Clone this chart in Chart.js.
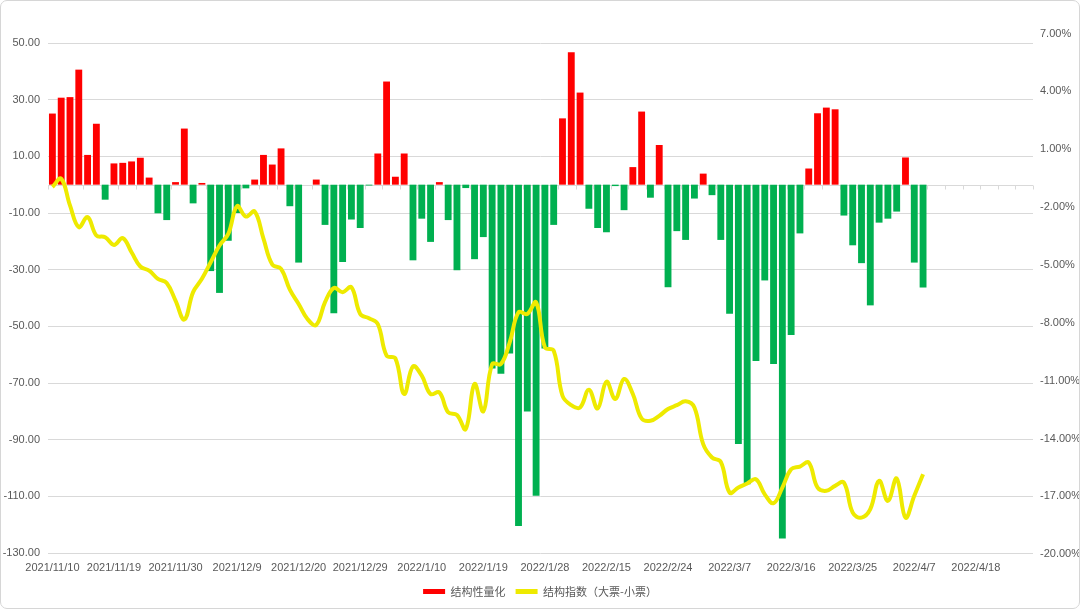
<!DOCTYPE html>
<html>
<head>
<meta charset="utf-8">
<script src="https://cdn.jsdelivr.net/npm/chart.js@4.4.1/dist/chart.umd.min.js"></script>
<style>
  html, body { margin: 0; padding: 0; background: #ffffff; }
  #wrap { position: relative; width: 1080px; height: 609px; }
  #c { position: absolute; left: 0; top: 0; }
  #frame { position: absolute; left: 0; top: 0; width: 1078px; height: 607px;
           border: 1px solid #d6d6d6; border-radius: 7px; pointer-events: none; }
</style>
</head>
<body>
<div id="wrap">
  <canvas id="c" width="1080" height="609"></canvas>
  <div id="frame"></div>
</div>
<script>
// ---- categories: trading days ----
const categories = [
  "2021/11/10","2021/11/11","2021/11/12","2021/11/15","2021/11/16","2021/11/17","2021/11/18","2021/11/19",
  "2021/11/22","2021/11/23","2021/11/24","2021/11/25","2021/11/26","2021/11/29","2021/11/30",
  "2021/12/1","2021/12/2","2021/12/3","2021/12/6","2021/12/7","2021/12/8","2021/12/9",
  "2021/12/10","2021/12/13","2021/12/14","2021/12/15","2021/12/16","2021/12/17","2021/12/20",
  "2021/12/21","2021/12/22","2021/12/23","2021/12/24","2021/12/27","2021/12/28","2021/12/29",
  "2021/12/30","2021/12/31","2022/1/4","2022/1/5","2022/1/6","2022/1/7","2022/1/10",
  "2022/1/11","2022/1/12","2022/1/13","2022/1/14","2022/1/17","2022/1/18","2022/1/19",
  "2022/1/20","2022/1/21","2022/1/24","2022/1/25","2022/1/26","2022/1/27","2022/1/28",
  "2022/2/7","2022/2/8","2022/2/9","2022/2/10","2022/2/11","2022/2/14","2022/2/15",
  "2022/2/16","2022/2/17","2022/2/18","2022/2/21","2022/2/22","2022/2/23","2022/2/24",
  "2022/2/25","2022/2/28","2022/3/1","2022/3/2","2022/3/3","2022/3/4","2022/3/7",
  "2022/3/8","2022/3/9","2022/3/10","2022/3/11","2022/3/14","2022/3/15","2022/3/16",
  "2022/3/17","2022/3/18","2022/3/21","2022/3/22","2022/3/23","2022/3/24","2022/3/25",
  "2022/3/28","2022/3/29","2022/3/30","2022/3/31","2022/4/1","2022/4/6","2022/4/7",
  "2022/4/8","2022/4/11","2022/4/12","2022/4/13","2022/4/14","2022/4/15","2022/4/18",
  "2022/4/19","2022/4/20","2022/4/21","2022/4/22","2022/4/25","2022/4/26"
];

// ---- series: 结构性量化 (left axis) ----
const structQuant = [
  25.1, 30.7, 30.9, 40.6, 10.5, 21.5, -5.3, 7.5, 7.7, 8.2,
  9.5, 2.5, -10.1, -12.5, 0.9, 19.8, -6.6, 0.6, -30.5, -38.2,
  -19.8, -10.0, -1.3, 1.8, 10.5, 7.1, 12.8, -7.6, -27.5, 0,
  1.8, -14.2, -45.4, -27.3, -12.3, -15.3, -0.3, 11.0, 36.4, 2.8,
  11.0, -26.7, -12.0, -20.2, 0.9, -12.5, -30.2, -1.2, -26.3, -18.5,
  -64.9, -66.7, -59.6, -120.5, -80.1, -109.8, -57.8, -14.2, 23.4, 46.7,
  32.5, -8.5, -15.3, -16.8, -0.5, -9.0, 6.2, 25.8, -4.6, 14.0,
  -36.2, -16.4, -19.5, -4.9, 3.9, -3.7, -19.5, -45.6, -91.5, -105.7,
  -62.2, -33.8, -63.3, -124.9, -53.1, -17.2, 5.7, 25.2, 27.2, 26.6,
  -10.9, -21.4, -27.7, -42.6, -13.4, -12.0, -9.5, 9.6, -27.5, -36.3,
  null, null, null, null, null, null, null, null, null, null, null, null
];

// ---- series: 结构指数（大票-小票） in % (right axis) ----
const structIndex = [
  -0.96, -0.53, -1.91, -3.04, -2.52, -3.47, -3.56, -3.96, -3.61, -4.34,
  -5.08, -5.29, -5.72, -5.93, -6.85, -7.83, -6.41, -5.72, -4.86, -3.99,
  -3.39, -1.95, -2.49, -2.23, -3.64, -4.98, -5.20, -6.28, -7.02, -7.80,
  -8.11, -6.93, -6.19, -6.41, -6.15, -7.54, -7.76, -8.06, -9.70, -9.84,
  -11.69, -10.26, -10.74, -11.69, -11.61, -12.64, -12.78, -13.51, -11.17, -12.59,
  -10.14, -10.14, -9.01, -7.45, -7.54, -6.93, -9.27, -9.44, -11.78, -12.27,
  -12.39, -11.47, -12.44, -11.05, -11.95, -10.91, -11.69, -12.96, -13.08, -12.82,
  -12.47, -12.27, -12.07, -12.39, -14.29, -14.98, -15.21, -16.80, -16.54, -16.33,
  -16.11, -16.89, -17.35, -16.54, -15.59, -15.45, -15.24, -16.54, -16.71, -16.45,
  -16.28, -17.84, -18.10, -17.66, -16.19, -17.23, -16.07, -18.10, -16.97, -15.85,
  null, null, null, null, null, null, null, null, null, null, null, null
];

// ---- axis tick settings ----
const leftTicks = { min: -130, max: 50, step: 20 };
const rightTicks = { min: -20, max: 7, step: 3 };
const labelEvery = 7;

const RED = '#FF0000', GREEN = '#00B050', YELLOW = '#EEEA00';
const TXT = '#595959', GRID = '#D9D9D9';
const FONT = '"Liberation Sans", Arial, "Noto Sans CJK SC", sans-serif';

// right axis sits slightly taller than the plot area in the reference
const rightAxisPlugin = {
  id: 'rightAxisShift',
  afterLayout(chart) {
    const s = chart.scales.y1;
    const a = chart.chartArea;
    s.top = a.top - 9.5;
    s.bottom = a.bottom + 1.3;
    s.height = s.bottom - s.top;
    s.configure();
  }
};

// zero (category) axis line with small tick marks every 2 categories
const zeroAxisPlugin = {
  id: 'zeroAxis',
  beforeDatasetsDraw(chart) {
    const { ctx, scales } = chart;
    const x = scales.x, y = scales.y;
    const y0 = Math.round(y.getPixelForValue(0)) + 0.5;
    const n = categories.length;
    const w = (x.right - x.left) / n;
    ctx.save();
    ctx.strokeStyle = GRID;
    ctx.lineWidth = 1;
    ctx.beginPath();
    ctx.moveTo(x.left, y0);
    ctx.lineTo(x.right, y0);
    for (let k = 0; k <= n; k += 2) {
      const px = Math.round(x.left + k * w) + 0.5;
      ctx.moveTo(px, y0);
      ctx.lineTo(px, y0 + 4);
    }
    ctx.stroke();
    ctx.restore();
  }
};

new Chart(document.getElementById('c'), {
  data: {
    labels: categories,
    datasets: [
      {
        type: 'bar',
        label: '结构性量化',
        data: structQuant,
        yAxisID: 'y',
        order: 1,
        backgroundColor: (ctx) => (ctx.raw == null || ctx.raw >= 0) ? RED : GREEN,
        borderWidth: 0,
        barPercentage: 0.78,
        categoryPercentage: 1.0
      },
      {
        type: 'line',
        label: '结构指数（大票-小票）',
        data: structIndex,
        yAxisID: 'y1',
        order: 0,
        borderColor: YELLOW,
        backgroundColor: YELLOW,
        borderWidth: 4,
        pointRadius: 0,
        tension: 0.4,
        fill: false,
        spanGaps: false
      }
    ]
  },
  options: {
    responsive: false,
    animation: false,
    events: [],
    layout: { padding: { top: 43, left: 0, right: 0, bottom: 2 } },
    plugins: {
      tooltip: { enabled: false },
      legend: {
        position: 'bottom',
        labels: {
          color: TXT,
          font: { family: '"Noto Sans CJK SC", sans-serif', size: 11 },
          boxWidth: 22,
          boxHeight: 5,
          padding: 10,
          sort: (a, b) => a.datasetIndex - b.datasetIndex,
          generateLabels(chart) {
            const items = Chart.defaults.plugins.legend.labels.generateLabels(chart);
            items.forEach(it => {
              it.lineWidth = 0;
              it.strokeStyle = 'rgba(0,0,0,0)';
              it.fillStyle = it.datasetIndex === 0 ? RED : YELLOW;
            });
            return items;
          }
        }
      }
    },
    scales: {
      x: {
        type: 'category',
        grid: { display: false, drawTicks: false },
        border: { display: false },
        ticks: {
          autoSkip: false,
          maxRotation: 0,
          minRotation: 0,
          padding: 8,
          color: TXT,
          font: { family: FONT, size: 11 },
          callback: (v, i) => (i % labelEvery === 0 ? categories[i] : '')
        },
        afterFit(s) { s.height = 23; }
      },
      y: {
        type: 'linear',
        position: 'left',
        min: leftTicks.min,
        max: leftTicks.max,
        grid: { color: GRID, lineWidth: 1, drawTicks: false },
        border: { display: false },
        ticks: {
          stepSize: leftTicks.step,
          padding: 8,
          color: TXT,
          font: { family: FONT, size: 11 },
          callback: (v) => Number(v).toFixed(2)
        },
        afterFit(s) { s.width = 48; }
      },
      y1: {
        type: 'linear',
        position: 'right',
        min: rightTicks.min,
        max: rightTicks.max,
        grid: { display: false, drawTicks: false },
        border: { display: false },
        ticks: {
          stepSize: rightTicks.step,
          padding: 7,
          color: TXT,
          font: { family: FONT, size: 11 },
          callback: (v) => Number(v).toFixed(2) + '%'
        },
        afterFit(s) { s.width = 47; }
      }
    }
  },
  plugins: [rightAxisPlugin, zeroAxisPlugin]
});
</script>
</body>
</html>
